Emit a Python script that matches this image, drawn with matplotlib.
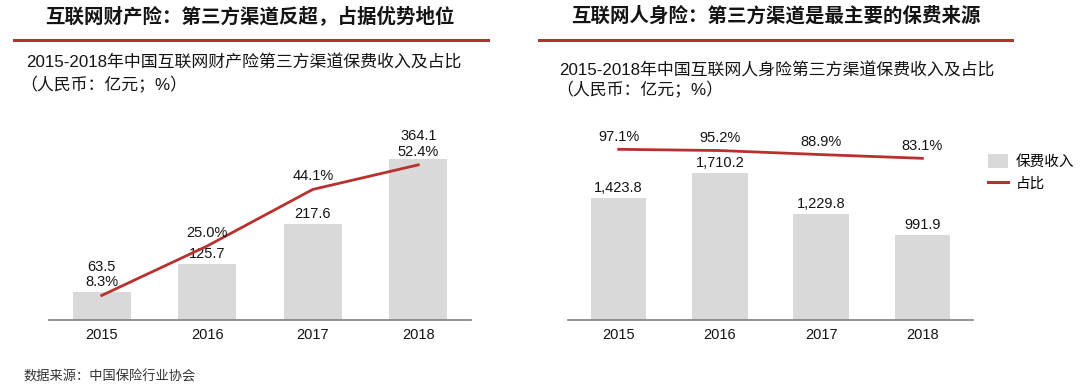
import numpy as np
import matplotlib
matplotlib.use("Agg")
import matplotlib.pyplot as plt
from matplotlib.patches import Patch
from matplotlib.lines import Line2D

plt.rcParams['font.family'] = ['Liberation Sans', 'Noto Sans CJK SC', 'DejaVu Sans']

# ─── data ───────────────────────────────────────────────
years = ['2015', '2016', '2017', '2018']

pc_premium = [63.5, 125.7, 217.6, 364.1]     # 财产险 第三方渠道保费 (亿元)
pc_share   = [8.3, 25.0, 44.1, 52.4]         # 占比 %

life_premium = [1423.8, 1710.2, 1229.8, 991.9]  # 人身险 第三方渠道保费 (亿元)
life_share   = [97.1, 95.2, 88.9, 83.1]         # 占比 %

left_title  = "互联网财产险：第三方渠道反超，占据优势地位"
right_title = "互联网人身险：第三方渠道是最主要的保费来源"
left_sub    = "2015-2018年中国互联网财产险第三方渠道保费收入及占比"
right_sub   = "2015-2018年中国互联网人身险第三方渠道保费收入及占比"
unit_line   = "（人民币：亿元；%）"
source      = "数据来源：中国保险行业协会"
legend_lbl  = ["保费收入", "占比"]

# ─── style ──────────────────────────────────────────────
W, H = 1080, 391
BAR = '#d9d9d9'
RED = '#b8312f'
AXC = '#808080'
TXT = '#141414'

fig = plt.figure(figsize=(W / 100, H / 100), dpi=100)

def px(x, y):
    return x / W, 1 - y / H

def make_ax(left, right):
    return fig.add_axes([left / W, (H - 320) / H, (right - left) / W, 180 / H])

def clean(ax):
    for s in ['top', 'right', 'left']:
        ax.spines[s].set_visible(False)
    ax.spines['bottom'].set_color(AXC)
    ax.spines['bottom'].set_linewidth(1.2)
    ax.set_yticks([])
    ax.tick_params(axis='x', length=0, pad=6, labelsize=10.5, labelcolor=TXT)

x = np.arange(len(years))

# ─── left: 财产险 ───────────────────────────────────────
axL = make_ax(49, 471)
axL.bar(x, pc_premium, width=0.55, color=BAR, zorder=1)
axL.set_xlim(-0.5, 3.5)
axL.set_ylim(0, 407)
axL.set_xticks(x, years)
clean(axL)
axL2 = axL.twinx()
axL2.plot(x, pc_share, color=RED, lw=2.0, zorder=3)
axL2.set_ylim(0, 60.8)
axL2.axis('off')

bar_off_L = [25, 10, 10, 23]
for i, v in enumerate(pc_premium):
    axL.annotate(f"{v:.1f}", (x[i], v), xytext=(0, bar_off_L[i]), textcoords='offset pixels',
                 ha='center', va='center', fontsize=10.5, color=TXT)
for i, v in enumerate(pc_share):
    axL2.annotate(f"{v:.1f}%", (x[i], v), xytext=(0, 13), textcoords='offset pixels',
                  ha='center', va='center', fontsize=10.5, color=TXT)

# ─── right: 人身险 ──────────────────────────────────────
axR = make_ax(568, 973)
axR.bar(x, life_premium, width=0.55, color=BAR, zorder=1)
axR.set_xlim(-0.5, 3.5)
axR.set_ylim(0, 2098)
axR.set_xticks(x, years)
clean(axR)
axR2 = axR.twinx()
axR2.plot(x, life_share, color=RED, lw=2.0, zorder=3)
axR2.set_ylim(-168.4, 111.6)
axR2.axis('off')

for i, v in enumerate(life_premium):
    axR.annotate(f"{v:,.1f}", (x[i], v), xytext=(0, 10), textcoords='offset pixels',
                 ha='center', va='center', fontsize=10.5, color=TXT)
for i, v in enumerate(life_share):
    axR2.annotate(f"{v:.1f}%", (x[i], v), xytext=(0, 12.5), textcoords='offset pixels',
                  ha='center', va='center', fontsize=10.5, color=TXT)

handles = [Patch(facecolor=BAR, edgecolor='none'), Line2D([], [], color=RED, lw=2.2)]
fig.legend(handles, legend_lbl, loc='upper left', bbox_to_anchor=px(988, 154),
           frameon=False, fontsize=10.5, handlelength=1.4, handleheight=1.1,
           handletextpad=0.5, labelspacing=0.45, borderaxespad=0, borderpad=0)

# ─── titles / headers ───────────────────────────────────
fig.text(*px(250, 16), left_title, ha='center', va='center', fontsize=14, fontweight='bold', color=TXT)
fig.text(*px(776, 16), right_title, ha='center', va='center', fontsize=14, fontweight='bold', color=TXT)
fig.add_artist(Line2D([14 / W, 488 / W], [1 - 40 / H] * 2, color=RED, lw=2.2))
fig.add_artist(Line2D([539 / W, 1012 / W], [1 - 40 / H] * 2, color=RED, lw=2.2))

fig.text(*px(26, 63), left_sub, ha='left', va='center', fontsize=12.2, color=TXT)
fig.text(*px(20, 85), unit_line, ha='left', va='center', fontsize=12.2, color=TXT)
fig.text(*px(559, 70), right_sub, ha='left', va='center', fontsize=12.2, color=TXT)
fig.text(*px(556, 90), unit_line, ha='left', va='center', fontsize=12.2, color=TXT)

fig.text(*px(23, 377), source, ha='left', va='center', fontsize=9.5, color='#333333')

fig.savefig("out.png", dpi=100)
